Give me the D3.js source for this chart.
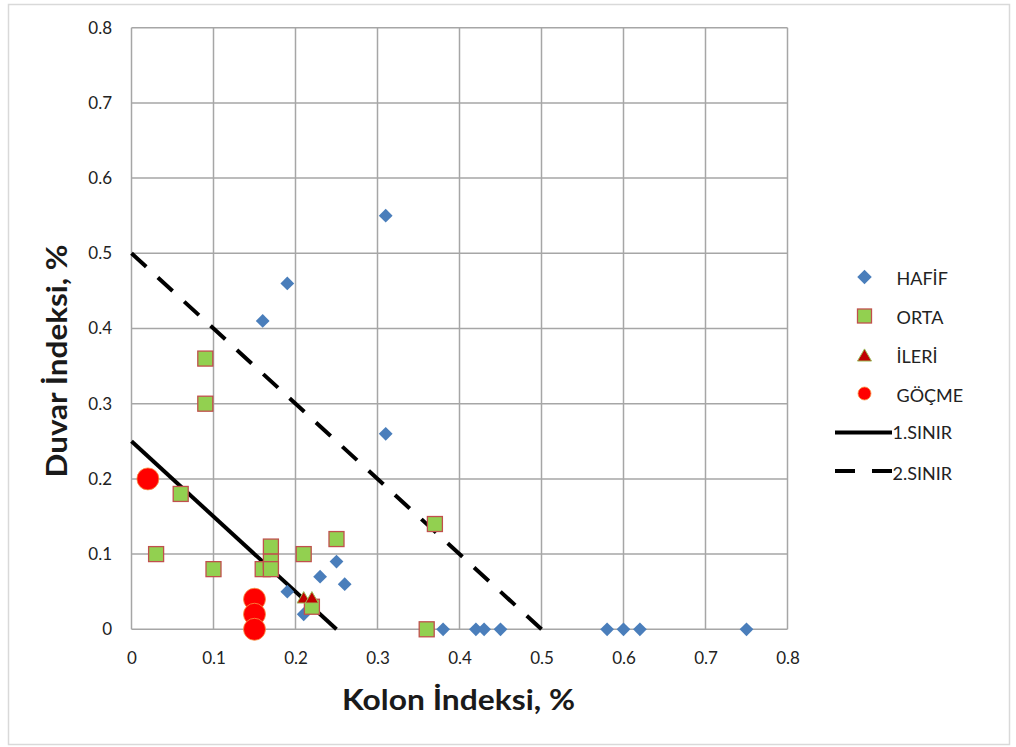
<!DOCTYPE html>
<html><head><meta charset="utf-8">
<script src="https://cdn.jsdelivr.net/npm/d3@7"></script>
<style>body{margin:0;background:#fff}svg{display:block}</style>
</head><body><svg id="c" width="1016" height="747"></svg>
<script>
const xTicks = [0,0.1,0.2,0.3,0.4,0.5,0.6,0.7,0.8];
const yTicks = [0,0.1,0.2,0.3,0.4,0.5,0.6,0.7,0.8];
const hafif = [[0.31,0.55],[0.19,0.46],[0.16,0.41],[0.31,0.26],[0.25,0.09],[0.23,0.07],[0.26,0.06],[0.19,0.05],[0.21,0.02],[0.38,0],[0.42,0],[0.43,0],[0.45,0],[0.58,0],[0.60,0],[0.62,0],[0.75,0]];
const orta = [[0.09,0.36],[0.09,0.30],[0.06,0.18],[0.03,0.10],[0.10,0.08],[0.16,0.08],[0.17,0.11],[0.17,0.09],[0.17,0.08],[0.21,0.10],[0.25,0.12],[0.22,0.03],[0.37,0.14],[0.36,0]];
const ileri = [[0.21,0.04],[0.22,0.04]];
const gocme = [[0.02,0.20],[0.15,0.04],[0.15,0.02],[0.15,0]];
const sinir1 = [[0,0.25],[0.25,0]];
const sinir2 = [[0,0.5],[0.5,0]];
const legendLabels = ["HAFİF","ORTA","İLERİ","GÖÇME","1.SINIR","2.SINIR"];

const svg = d3.select("#c");
const font = "Lato, 'Open Sans', sans-serif";
svg.append("rect").attr("x",8.5).attr("y",4.5).attr("width",1001).attr("height",740).attr("fill","#fff").attr("stroke","#d9d9d9").attr("stroke-width",1.5);

const x = d3.scaleLinear().domain([0,0.8]).range([131.5,787.5]);
const y = d3.scaleLinear().domain([0,0.8]).range([629.3,27.7]);
const g = svg.append("g");
g.selectAll(".gx").data(xTicks).join("line").attr("x1",d=>x(d)).attr("x2",d=>x(d)).attr("y1",y(0)).attr("y2",y(0.8)).attr("stroke","#a6a6a6").attr("stroke-width",1.5);
g.selectAll(".gy").data(yTicks).join("line").attr("y1",d=>y(d)).attr("y2",d=>y(d)).attr("x1",x(0)).attr("x2",x(0.8)).attr("stroke","#a6a6a6").attr("stroke-width",1.5);

const fmt = d=> d===0?"0":d3.format(".1f")(d);
const xa = svg.append("g").attr("transform",`translate(0,${y(0)})`).call(d3.axisBottom(x).tickValues(xTicks).tickFormat(fmt).tickSize(0).tickPadding(23));
const ya = svg.append("g").attr("transform",`translate(${x(0)},0)`).call(d3.axisLeft(y).tickValues(yTicks).tickFormat(fmt).tickSize(0).tickPadding(19.5));
[xa,ya].forEach(a=>{a.select(".domain").remove();a.selectAll("text").attr("font-family",font).attr("font-size",17).attr("fill","#222");});

svg.append("text").attr("x",458.5).attr("y",710).attr("text-anchor","middle").attr("font-family",font).attr("font-weight","bold").attr("font-size",28).attr("textLength",233).attr("lengthAdjust","spacingAndGlyphs").attr("fill","#1a1a1a").text("Kolon İndeksi, %");
svg.append("text").attr("transform",`translate(67,361) rotate(-90)`).attr("text-anchor","middle").attr("font-family",font).attr("font-weight","bold").attr("font-size",28).attr("textLength",233).attr("lengthAdjust","spacingAndGlyphs").attr("fill","#1a1a1a").text("Duvar İndeksi, %");

const line = d3.line().x(d=>x(d[0])).y(d=>y(d[1]));
svg.append("path").attr("d",line(sinir1)).attr("stroke","#000").attr("stroke-width",4).attr("fill","none");
const p2 = svg.append("path").attr("d",line(sinir2)).attr("stroke","#000").attr("stroke-width",4).attr("fill","none");
const L = p2.node().getTotalLength();
const gap = (L - 16*20)/15;
p2.attr("stroke-dasharray",`20,${gap}`);

function drawDiamond(sel,cx,cy,s){sel.append("path").attr("d",d3.symbol().type(d3.symbolSquare).size(s)()).attr("transform",`translate(${cx},${cy}) rotate(45)`).attr("fill","#4a7ebb");}
function drawSquare(sel,cx,cy,s){sel.append("rect").attr("x",cx-s/2).attr("y",cy-s/2).attr("width",s).attr("height",s).attr("fill","#92d050").attr("stroke","#c0504d").attr("stroke-width",1.3);}
function drawTri(sel,cx,cy,s){sel.append("path").attr("d",d3.symbol().type(d3.symbolTriangle).size(s)()).attr("transform",`translate(${cx},${cy})`).attr("fill","#c00000").attr("stroke","#9bbb59").attr("stroke-width",1);}
function drawCirc(sel,cx,cy,r){sel.append("circle").attr("cx",cx).attr("cy",cy).attr("r",r).attr("fill","#ff0000").attr("stroke","#f79646").attr("stroke-width",0.8);}

const pts = svg.append("g");
hafif.forEach(d=>drawDiamond(pts,x(d[0]),y(d[1]),95));
orta.forEach(d=>drawSquare(pts,x(d[0]),y(d[1]),15));
ileri.forEach(d=>drawTri(pts,x(d[0]),y(d[1]),75));
gocme.forEach(d=>drawCirc(pts,x(d[0]),y(d[1]),11));

const lg = svg.append("g");
const ly = [277,316,356,393.5,432.5,471];
drawDiamond(lg,864.5,ly[0],105);
drawSquare(lg,864.5,ly[1],14);
drawTri(lg,864.5,ly[2]+1,85);
drawCirc(lg,864.5,ly[3],6.5);
lg.append("line").attr("x1",835).attr("x2",892).attr("y1",ly[4]).attr("y2",ly[4]).attr("stroke","#000").attr("stroke-width",4);
lg.append("line").attr("x1",835).attr("x2",892).attr("y1",ly[5]).attr("y2",ly[5]).attr("stroke","#000").attr("stroke-width",4).attr("stroke-dasharray","20,17");
const lbase = [285,324,363,402,438.5,480];
legendLabels.forEach((t,i)=>{
  lg.append("text").attr("x",i<4?896.5:892.5).attr("y",lbase[i]).attr("font-family",font).attr("font-size",18).attr("fill","#222").text(t);
});
</script></body></html>
